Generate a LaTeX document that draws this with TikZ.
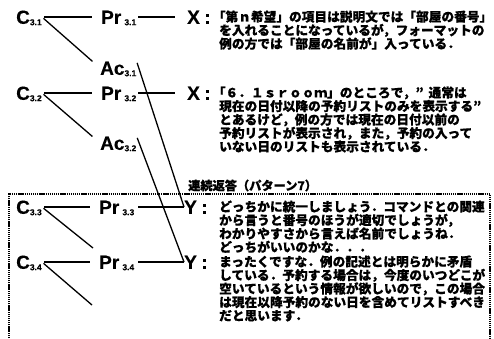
\documentclass[tikz,border=0pt]{standalone}
\usepackage{fontspec}
\setmainfont{Liberation Sans}[BoldFeatures={FakeBold=0.3}]
\newfontfamily\jp{Noto Sans CJK JP}[BoldFeatures={FakeBold=0.5}]
\newcommand\subs[1]{\raisebox{-1.4pt}{\fontsize{8.5}{8.5}\selectfont #1}}
\tikzset{
  lbl/.style={font=\fontsize{19}{19}\selectfont\bfseries, inner sep=0pt, text height=13.6pt, text depth=0pt, anchor=west},
  jtext/.style={font=\jp\bfseries\fontsize{12.7}{13.5}\selectfont, align=left, inner sep=0pt, anchor=north west},
  conn/.style={line width=1.3pt},
  dotbox/.style={line width=1.4pt, dash pattern=on 1.3pt off 0.8pt}
}
\begin{document}
\begin{tikzpicture}[x=1pt,y=-1pt]
\useasboundingbox (0,0) rectangle (494,338);
\fill[white] (0,0) rectangle (494,338);
% dotted frame
\draw[dotbox] (9,338) -- (9,194) -- (490,194) -- (490,338);
\node[jtext, font=\jp\bfseries\fontsize{12.2}{13}\selectfont, anchor=west] (lab) at (188,185.5) {連続返答（パターン7）};
% nodes
\node[lbl] (c31) at (16,17) {C\subs{3.1}};
\node[lbl] (pr31) at (101,17) {Pr\,\subs{3.1}};
\node[lbl] (ac31) at (100,68) {Ac\subs{3.1}};
\node[lbl] (x1) at (187,17) {X\kern4.5pt:};
\node[lbl] (c32) at (16,93) {C\subs{3.2}};
\node[lbl] (pr32) at (101,93) {Pr\,\subs{3.2}};
\node[lbl] (ac32) at (100,143) {Ac\subs{3.2}};
\node[lbl] (x2) at (187,93) {X\kern4.5pt:};
\node[lbl] (c33) at (16,207) {C\subs{3.3}};
\node[lbl] (pr33) at (99,207) {Pr\,\subs{3.3}};
\node[lbl] (y3) at (184,207) {Y\kern4.5pt:};
\node[lbl] (c34) at (16,262) {C\subs{3.4}};
\node[lbl] (pr34) at (99,262) {Pr\,\subs{3.4}};
\node[lbl] (y4) at (184,262) {Y\kern4.5pt:};
\coordinate (e33) at (93,248);
\coordinate (e34) at (92,305);
% texts
\node[jtext] (t1) at (219,10.3) {\kern-0.5em「第ｎ希望」の項目は説明文では「部屋の番号」\\
を入れることになっているが，フォーマットの\\
例の方では「部屋の名前が」入っている．};
\node[jtext] (t2) at (219,86.3) {\kern-0.5em「６．１ｓｒｏｏｍ」のところで，”\kern0.4em通常は\\
現在の日付以降の予約リストのみを表示する”\\
とあるけど，例の方では現在の日付以前の\\
予約リストが表示され，また，予約の入って\\
いない日のリストも表示されている．};
\node[jtext] (t3) at (219,200.3) {どっちかに統一しましょう．コマンドとの関連\\
から言うと番号のほうが適切でしょうが，\\
わかりやすさから言えば名前でしょうね．\\
どっちがいいのかな．．．};
\node[jtext] (t4) at (219,255.3) {まったくですな．例の記述とは明らかに矛盾\\
している．予約する場合は，今度のいつどこが\\
空いているという情報が欲しいので，この場合\\
は現在以降予約のない日を含めてリストすべき\\
だと思います．};
% connectors
\draw[conn, shorten <=2pt, shorten >=9pt] (c31.east) -- (pr31.west);
\draw[conn, shorten <=2pt, shorten >=10pt] (c31.east) -- (ac31.west);
\draw[conn, shorten <=2pt, shorten >=12pt] (pr31.east) -- (x1.west);
\draw[conn, shorten <=2pt] (ac31.north east) -- (y3.west);
\draw[conn, shorten <=2pt, shorten >=9pt] (c32.east) -- (pr32.west);
\draw[conn, shorten <=2pt, shorten >=10pt] (c32.east) -- (ac32.west);
\draw[conn, shorten <=2pt, shorten >=12pt] (pr32.east) -- (x2.west);
\draw[conn, shorten <=2pt] (ac32.north east) -- (y4.west);
\draw[conn, shorten <=2pt, shorten >=9pt] (c33.east) -- (pr33.west);
\draw[conn, shorten <=2pt] (c33.east) -- (e33);
\draw[conn, shorten <=4pt] (pr33.east) -- (y3.west);
\draw[conn, shorten <=2pt, shorten >=9pt] (c34.east) -- (pr34.west);
\draw[conn, shorten <=2pt] (c34.east) -- (e34);
\draw[conn, shorten <=4pt] (pr34.east) -- (y4.west);
\end{tikzpicture}
\end{document}
